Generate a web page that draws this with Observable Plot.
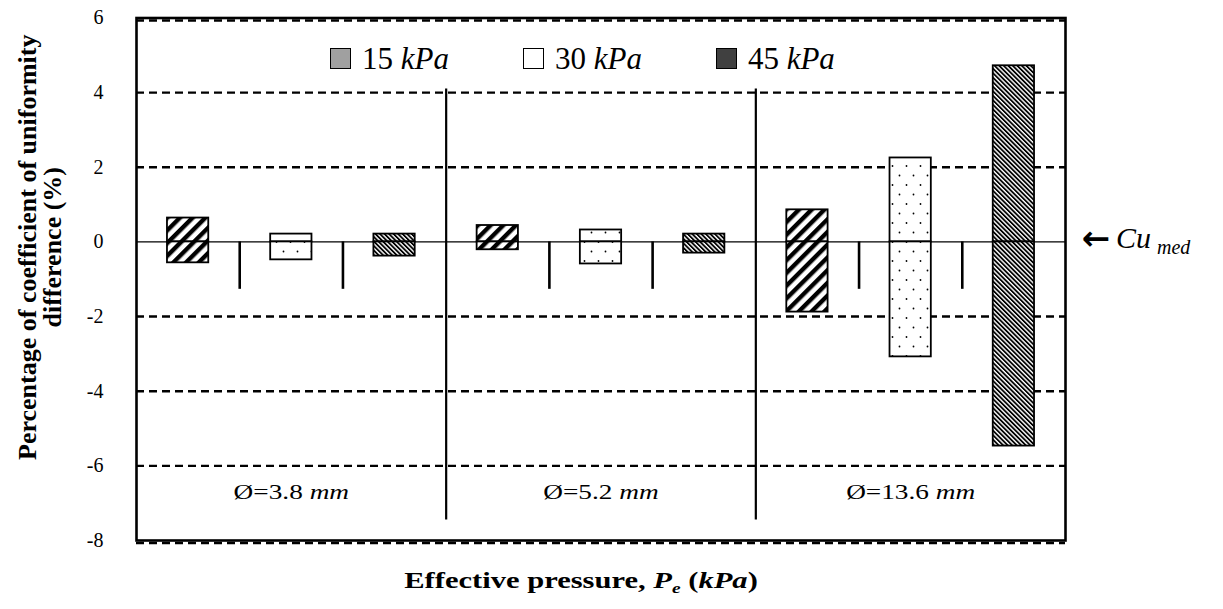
<!DOCTYPE html>
<html><head><meta charset="utf-8">
<script src="https://cdn.jsdelivr.net/npm/d3@7"></script>
<script src="https://cdn.jsdelivr.net/npm/@observablehq/plot@0.6"></script>
<style>
body{margin:0;background:#fff;font-family:"Liberation Serif",serif;}
#wrap{position:relative;width:1223px;height:609px;}
#legend{position:absolute;top:41px;left:330px;display:flex;align-items:center;font-size:31px;line-height:35px;color:#000;}
.item{display:flex;align-items:center;margin-right:74px}
.sw{width:21px;height:21px;border:1.6px solid #000;margin-right:11px;box-sizing:border-box}
</style></head><body><div id="wrap"><div id="legend"></div></div>
<script>
const groups = ["Ø=3.8 mm", "Ø=5.2 mm", "Ø=13.6 mm"];
const pressures = ["15 kPa", "30 kPa", "45 kPa"];
const upper15 = [0.64, 0.44, 0.86];
const lower15 = [-0.56, -0.21, -1.88];
const upper30 = [0.21, 0.32, 2.25];
const lower30 = [-0.48, -0.59, -3.08];
const upper45 = [0.21, 0.21, 4.72];
const lower45 = [-0.38, -0.30, -5.47];
const yTicks = [6, 4, 2, 0, -2, -4, -6, -8];
const gridLines = [4, 2, -2, -4, -6];
const edgeLines = [6, -8];
const tickDepth = -1.27;
const dividerSpan = [4.1, -7.45];
const legendColors = ["#a0a0a0", "#ffffff", "#404040"];
const patterns = ["url(#p15)", "url(#p30)", "url(#p45)"];
const yTitle = "Percentage of coefficient of uniformity\ndifference (%)";
const xTitle = "Effective pressure";
const refLabel = "Cu";

const uppers = [upper15, upper30, upper45];
const lowers = [lower15, lower30, lower45];
const slots = 6; // slots per group
const rows = [];
groups.forEach((g, gi) => pressures.forEach((p, pi) => {
  rows.push({group: g, pressure: p, pi, center: gi * slots + 1 + 2 * pi, upper: uppers[pi][gi], lower: lowers[pi][gi]});
}));
const sepX = [];
groups.forEach((g, gi) => { sepX.push(gi * slots + 2, gi * slots + 4); });
const dividers = groups.slice(1).map((g, gi) => (gi + 1) * slots);
const half = 0.4;

const barMarks = [];
pressures.forEach((p, pi) => {
  const data = rows.filter(d => d.pi === pi);
  barMarks.push(Plot.rectY(data, {x1: d => d.center - half, x2: d => d.center + half, y1: 0, y2: "upper", fill: patterns[pi], stroke: "black", strokeWidth: 1.8}));
  barMarks.push(Plot.rectY(data, {x1: d => d.center - half, x2: d => d.center + half, y1: "lower", y2: 0, fill: patterns[pi], stroke: "black", strokeWidth: 1.8}));
});

const svg = Plot.plot({
  width: 1223, height: 609,
  marginLeft: 136, marginRight: 158, marginTop: 17.5, marginBottom: 69,
  style: {fontFamily: "Liberation Serif", fontSize: "20px", background: "white", color: "black"},
  x: {domain: [0, groups.length * slots], axis: null},
  y: {domain: [-8, 6]},
  marks: [
    Plot.ruleY(gridLines, {stroke: "black", strokeWidth: 2.4, strokeDasharray: "8,5"}),
    Plot.ruleY(edgeLines, {stroke: "black", strokeWidth: 2.4, strokeDasharray: "8,5", dy: 2.5}),
    Plot.ruleY([0], {stroke: "black", strokeWidth: 1.3}),
    Plot.ruleX(dividers, {y1: dividerSpan[0], y2: dividerSpan[1], stroke: "black", strokeWidth: 2.2}),
    Plot.ruleX(sepX, {y1: 0, y2: tickDepth, stroke: "black", strokeWidth: 2.6}),
    ...barMarks,
    Plot.frame({stroke: "black", strokeWidth: 2.6}),
    Plot.axisY(yTicks, {tickSize: 0, tickPadding: 33, fontSize: 20, tickFormat: d => String(d), label: null}),
    Plot.text(groups, {x: (d, i) => i * slots + slots / 2, frameAnchor: "bottom", dy: -42, text: d => d, fontSize: 21}),
    Plot.text([yTitle], {frameAnchor: "left", textAnchor: "middle", rotate: -90, dx: -96, dy: -32, text: d => d, fontSize: 26, fontWeight: "bold", lineHeight: 0.97}),
    Plot.text([xTitle], {frameAnchor: "bottom", dx: -20, dy: 47, text: d => d, fontSize: 23.5, fontWeight: "bold"}),
    Plot.text([refLabel], {y: 0, frameAnchor: "right", textAnchor: "start", dx: 16, dy: -4, text: d => d, fontSize: 30})
  ]
});

const defs = d3.select(svg).insert("defs", ":first-child");
const p15 = defs.append("pattern").attr("id", "p15").attr("patternUnits", "userSpaceOnUse").attr("width", 9).attr("height", 9).attr("patternTransform", "rotate(45)");
p15.append("rect").attr("width", 9).attr("height", 9).attr("fill", "white");
p15.append("rect").attr("width", 4.4).attr("height", 9).attr("fill", "black");
const p30 = defs.append("pattern").attr("id", "p30").attr("patternUnits", "userSpaceOnUse").attr("width", 14).attr("height", 19);
p30.append("rect").attr("width", 14).attr("height", 19).attr("fill", "white");
p30.append("circle").attr("cx", 3.5).attr("cy", 4.5).attr("r", 0.9).attr("fill", "black");
p30.append("circle").attr("cx", 10.5).attr("cy", 14).attr("r", 0.9).attr("fill", "black");
const p45 = defs.append("pattern").attr("id", "p45").attr("patternUnits", "userSpaceOnUse").attr("width", 3.2).attr("height", 3.2).attr("patternTransform", "rotate(-45)");
p45.append("rect").attr("width", 3.2).attr("height", 3.2).attr("fill", "white");
p45.append("rect").attr("width", 1.8).attr("height", 3.2).attr("fill", "black");

const sel = d3.select(svg);
const stretch = (el, k) => { const t = el.getAttribute("transform") || ""; el.setAttribute("transform", t + ` scale(${k},1)`); };
sel.selectAll("text").each(function() {
  const s = this.textContent;
  const gi = groups.indexOf(s);
  if (gi >= 0) {
    const k = s.lastIndexOf(" ");
    this.innerHTML = `${s.slice(0, k)} <tspan font-style="italic">${s.slice(k + 1)}</tspan>`;
    stretch(this, 1.3);
  } else if (s === xTitle) {
    this.innerHTML = `${xTitle}, <tspan font-style="italic">P</tspan><tspan font-style="italic" font-size="15" dy="5">e</tspan><tspan dy="-5"> (</tspan><tspan font-style="italic">kPa</tspan>)`;
    stretch(this, 1.3);
  } else if (s === refLabel) {
    this.innerHTML = `<tspan font-family="DejaVu Sans" font-weight="bold" font-size="34" font-style="normal" dy="2">←</tspan><tspan dx="6" dy="-2" font-style="italic">${refLabel}</tspan><tspan font-style="italic" font-size="20" dx="6" dy="6">med</tspan>`;
  }
});

const wrap = document.getElementById("wrap");
wrap.insertBefore(svg, wrap.firstChild);
const legend = d3.select("#legend");
pressures.forEach((p, i) => {
  const it = legend.append("div").attr("class", "item");
  it.append("div").attr("class", "sw").style("background", legendColors[i]);
  const k = p.indexOf(" ");
  it.append("span").html(`${p.slice(0, k)} <i>${p.slice(k + 1)}</i>`);
});
</script></body></html>
